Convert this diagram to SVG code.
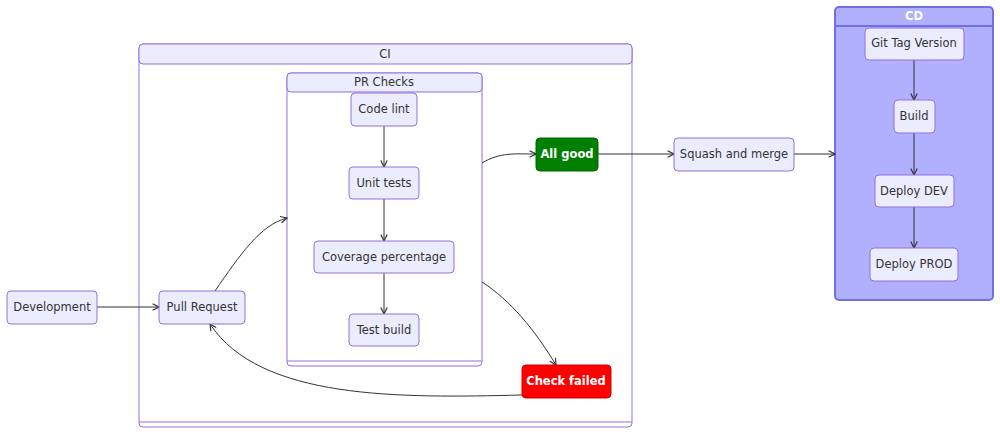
<svg xmlns="http://www.w3.org/2000/svg" width="1000" height="436" viewBox="0 0 1000 436">
<style>
text{font-family:"DejaVu Sans","Liberation Sans",sans-serif;font-size:11.5px;fill:#333;text-anchor:middle;dominant-baseline:central}
.n{fill:#ececff;stroke:#9370db;stroke-width:1}
.c{fill:#fff;stroke:#9370db;stroke-width:1}
.h{fill:#ececff;stroke:#9370db;stroke-width:1}
.e{fill:none;stroke:#333;stroke-width:1;marker-end:url(#a)}
.w{fill:#fff;font-weight:bold}
</style>
<defs><marker id="a" viewBox="0 0 10 10" refX="9" refY="5" markerWidth="8" markerHeight="8" orient="auto"><path d="M1,1 L9,5 L1,9" fill="none" stroke="#333" stroke-width="1.5"/></marker></defs>
<rect width="1000" height="436" fill="#fff"/>
<g id="CI"><rect class="c" x="139" y="44" width="493" height="383" rx="4"/><rect class="h" x="139" y="44" width="493" height="20" rx="4"/><line x1="139" y1="422" x2="632" y2="422" stroke="#9370db"/><text x="385" y="54">CI</text></g>
<g id="PRChecks"><rect class="c" x="287" y="73" width="195" height="293" rx="4"/><rect class="h" x="287" y="73" width="195" height="19" rx="4"/><line x1="287" y1="361" x2="482" y2="361" stroke="#9370db"/><text x="384" y="82">PR Checks</text></g>
<g id="CD"><rect x="835" y="7" width="158" height="293" rx="4" fill="#b0b0ff" stroke="#7070e0" stroke-width="2"/><line x1="835" y1="26" x2="993" y2="26" stroke="#7070e0" stroke-width="2"/><text x="914" y="16" class="w">CD</text></g>
<g id="connectors">
<path class="e" d="M97,307 L159,307"/>
<path class="e" d="M215,291 C240,255 260,225 287,218"/>
<path class="e" d="M384,126 L384,167"/>
<path class="e" d="M384,199 L384,241"/>
<path class="e" d="M384,273 L384,314"/>
<path class="e" d="M482,163 C500,152 515,154 536,154"/>
<path class="e" d="M598,154 L674,154"/>
<path class="e" d="M794,154 L835,154"/>
<path class="e" d="M482,282 C510,300 535,330 556,365"/>
<path class="e" d="M522,395 C400,398 260,400 210,324"/>
<path class="e" d="M914,60 L914,100"/>
<path class="e" d="M914,133 L914,175"/>
<path class="e" d="M914,207 L914,248"/>
</g>
<g id="Development"><rect class="n" x="7" y="291" width="90" height="33" rx="4"/><text x="52" y="307">Development</text></g>
<g id="PullRequest"><rect class="n" x="159" y="291" width="86" height="33" rx="4"/><text x="202" y="307">Pull Request</text></g>
<g id="CodeLint"><rect class="n" x="351" y="93" width="66" height="33" rx="4"/><text x="384" y="109">Code lint</text></g>
<g id="UnitTests"><rect class="n" x="349" y="167" width="70" height="32" rx="4"/><text x="384" y="183">Unit tests</text></g>
<g id="Coverage"><rect class="n" x="314" y="241" width="140" height="32" rx="4"/><text x="384" y="257">Coverage percentage</text></g>
<g id="TestBuild"><rect class="n" x="349" y="314" width="70" height="32" rx="4"/><text x="384" y="330">Test build</text></g>
<g id="AllGood"><rect x="536" y="138" width="62" height="33" rx="4" fill="#008000" stroke="#006400"/><text x="567" y="154" class="w">All good</text></g>
<g id="CheckFailed"><rect x="522" y="365" width="89" height="33" rx="4" fill="#ff0000" stroke="#d00000"/><text x="566" y="381" class="w">Check failed</text></g>
<g id="Squash"><rect class="n" x="674" y="138" width="120" height="33" rx="4"/><text x="734" y="154">Squash and merge</text></g>
<g id="GitTag"><rect class="n" x="865" y="28" width="99" height="32" rx="4"/><text x="914" y="43">Git Tag Version</text></g>
<g id="Build"><rect class="n" x="894" y="100" width="41" height="33" rx="4"/><text x="914" y="116">Build</text></g>
<g id="DeployDEV"><rect class="n" x="875" y="175" width="79" height="32" rx="4"/><text x="914" y="191">Deploy DEV</text></g>
<g id="DeployPROD"><rect class="n" x="870" y="248" width="88" height="33" rx="4"/><text x="914" y="264">Deploy PROD</text></g>
</svg>
